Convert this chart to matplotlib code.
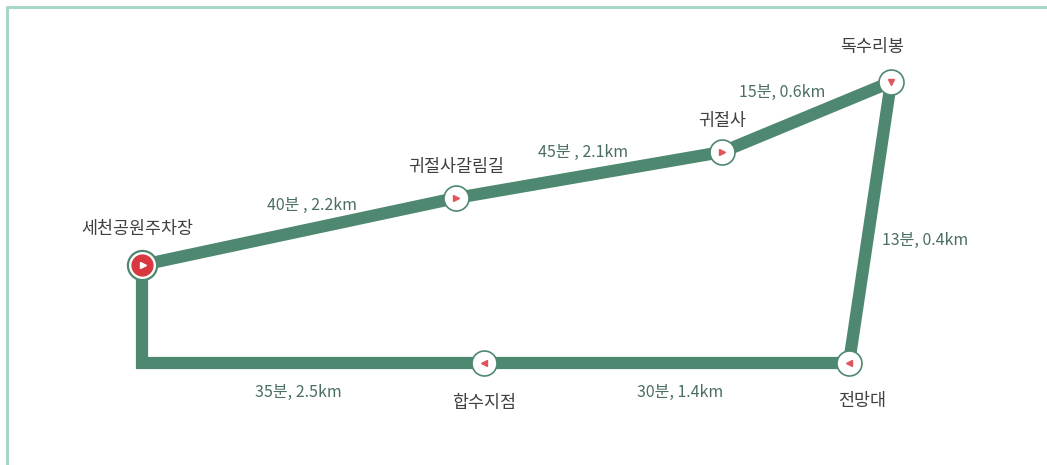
import matplotlib.pyplot as plt

plt.rcParams['font.family'] = ['Noto Sans CJK KR', 'DejaVu Sans']

# route nodes (picture coordinates, y down)
node_names = ["세천공원주차장", "귀절사갈림길", "귀절사", "독수리봉", "전망대", "합수지점"]
node_x = [142, 456, 722, 891, 849, 484]
node_y = [265, 198, 152, 82, 363, 363]
node_dir = ["start", ">", ">", "v", "<", "<"]

# path goes through a corner below the start
path_x = [142, 456, 722, 891, 849, 484, 142, 142]
path_y = [265, 198, 152, 82, 363, 363, 363, 265]

# segment labels: time, distance
seg_labels = ["40분 , 2.2km", "45분 , 2.1km", "15분, 0.6km", "13분, 0.4km", "30분, 1.4km", "35분, 2.5km"]
seg_x = [312, 583, 782, 925, 680, 298]
seg_y = [205, 152, 92, 240, 392, 392]

name_x = [137, 456, 722, 872, 862, 484]
name_y = [229, 167, 121, 47, 401, 403]

green = '#4e8870'
red = '#d8383f'

fig = plt.figure(figsize=(10.47, 4.65), dpi=100)
ax = fig.add_axes([0, 0, 1, 1])
ax.set_xlim(0, 1047)
ax.set_ylim(465, 0)
ax.axis('off')

# frame (only top and left visible)
ax.plot([6.5, 6.5, 1047], [465, 7.5, 7.5], color='#a9d6c6', lw=2.2, solid_capstyle='butt')

ax.plot(path_x, path_y, color=green, lw=8.8, solid_joinstyle='miter', solid_capstyle='butt', zorder=2)

for x, y, d in zip(node_x, node_y, node_dir):
    if d == "start":
        ax.plot(x, y, 'o', ms=21, mfc='white', mec=green, mew=1.6, zorder=3)
        ax.plot(x, y, 'o', ms=15, mfc=red, mec=red, zorder=4)
        ax.plot(x + 1, y, '>', ms=5, mfc='white', mec='white', zorder=5)
    else:
        ax.plot(x, y, 'o', ms=18, mfc='white', mec=green, mew=1.2, zorder=3)
        ax.plot(x, y, d, ms=4.5, mfc='#e0555b', mec='#e0555b', zorder=4)

for t, x, y in zip(node_names, name_x, name_y):
    ax.text(x, y, t, ha='center', va='center', fontsize=12.5, color='#404040', fontweight='medium')

for t, x, y in zip(seg_labels, seg_x, seg_y):
    ax.text(x, y, t, ha='center', va='center', fontsize=11.5, color='#4a6f60')

fig.savefig('out.png', dpi=100, facecolor='white')
